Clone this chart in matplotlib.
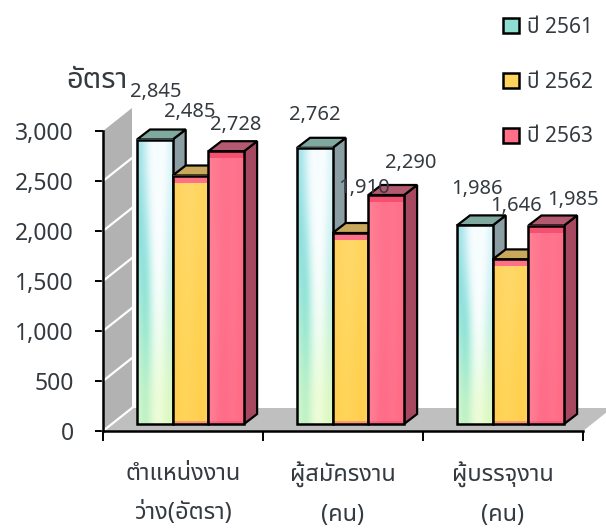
import numpy as np
import matplotlib
matplotlib.use('Agg')
import matplotlib.pyplot as plt
from matplotlib.colors import to_rgb
from matplotlib.patches import Patch, Polygon

categories = ['ตำแหน่งงาน\nว่าง(อัตรา)', 'ผู้สมัครงาน\n(คน)', 'ผู้บรรจุงาน\n(คน)']
years = ['ปี 2561', 'ปี 2562', 'ปี 2563']
values_2561 = [2845, 2762, 1986]
values_2562 = [2485, 1910, 1646]
values_2563 = [2728, 2290, 1985]
yticks = [0, 500, 1000, 1500, 2000, 2500, 3000]

# offset of each value label from the top of its bar, in pixels
label_dx = [[1, -1, 9], [0, 13, 25], [2, 5, 27]]
label_dy = [[-47, -64, -26], [-33, -45, -32], [-36, -53, -26]]

thai_font = ['Noto Sans', 'Noto Sans Thai']
text_col = '#333a40'
plt.rcParams['font.family'] = thai_font

W, H = 606, 528
fig = plt.figure(figsize=(W / 100, H / 100), dpi=100)
ax = fig.add_axes([103 / W, (H - 431) / H, 480 / W, 300 / H])
ax.set_xlim(0, 3)
ax.set_ylim(0, 3000)

# pixels -> data units
px = 3 / 480
py = 3000 / 300

# wall and floor of the 3d box
wall_dx, wall_dy = 29 * px, 23 * py
wall = Polygon([(0, 0), (wall_dx, wall_dy), (wall_dx, 3000 + wall_dy), (0, 3000)],
               fc='#b2b2b2', ec='none', clip_on=False, zorder=1)
ax.add_patch(wall)
floor = Polygon([(0, 0), (wall_dx, wall_dy), (3 + wall_dx, wall_dy), (3, 0)],
                fc='#bfbfbf', ec='none', clip_on=False, zorder=1)
ax.add_patch(floor)
for t in yticks[:-1]:
    ax.plot([0, wall_dx], [t, t + wall_dy], color='white', lw=1.6, clip_on=False, zorder=2)


def texture(rows):
    return np.array([[to_rgb(c) for c in row] for row in rows])


tex_2561 = texture([
    ['#a0e2e6', '#d0f1f6', '#ffffff', '#f2fbfd', '#ffffff', '#dcf5fa'],
    ['#84dada', '#a8e8ea', '#f0fbfb', '#ffffff', '#f4fcfc', '#cdf1f4'],
    ['#a0e9de', '#7cdcd2', '#dcf7f2', '#ffffff', '#ecfbf8', '#bceee6'],
    ['#bff0da', '#8ce6ca', '#cff6e4', '#f5fff5', '#e4fae6', '#ccf4d4'],
    ['#d0f6cc', '#b8f0c2', '#e0fad4', '#f2fdd8', '#e5fbcc', '#dcf7c2'],
])
tex_2562 = texture([
    ['#ffd25e', '#ffd766', '#ffd96c', '#ffd562', '#ffd45e'],
    ['#ffd357', '#ffd860', '#ffd65c', '#ffd255', '#ffd358'],
    ['#ffcf50', '#ffd55a', '#ffd357', '#ffcf50', '#ffd052'],
])
tex_2563 = texture([
    ['#ff7f90', '#ff7590', '#ff6f8a', '#ff7690', '#ff6f88'],
    ['#ff8296', '#ff7a92', '#ff6d88', '#ff7a90', '#ff6c86'],
    ['#ff7f94', '#ff6f8a', '#ff6a86', '#ff748c', '#ff6a84'],
])
textures = [tex_2561, tex_2562, tex_2563]
side_cols = ['#8b9ea3', '#b89c55', '#a6485f']
top_cols = ['#7fa89f', '#c8a95c', '#b45a70']
band_cols = [None, '#ff7088', '#f5506f']

# bars stand a little behind the axis line
base = 7 * py
bar_w = 35.7 * px
first = 34 * px
dep_x, dep_y = 13 * px, 10 * py

series = [values_2561, values_2562, values_2563]
z = 3
for g in range(len(categories)):
    for s in range(len(series)):
        v = series[s][g]
        x0 = g + first + s * bar_w
        x1 = x0 + bar_w
        top = v + base
        ax.add_patch(Polygon([(x1, base), (x1 + dep_x, base + dep_y), (x1 + dep_x, top + dep_y), (x1, top)],
                             fc=side_cols[s], ec='black', lw=1.6, clip_on=False, zorder=z))
        ax.add_patch(Polygon([(x0, top), (x0 + dep_x, top + dep_y), (x1 + dep_x, top + dep_y), (x1, top)],
                             fc=top_cols[s], ec='black', lw=1.6, clip_on=False, zorder=z))
        ax.imshow(textures[s], extent=[x0, x1, base, top], aspect='auto',
                  interpolation='bicubic', zorder=z + 1)
        if band_cols[s]:
            ax.bar(x0, 7 * py, width=bar_w, bottom=top - 7 * py, align='edge',
                   color=band_cols[s], lw=0, zorder=z + 1)
            ax.bar(x0, 3 * py, width=bar_w, bottom=base, align='edge',
                   color=band_cols[s], lw=0, alpha=0.6, zorder=z + 1)
        ax.bar(x0, v, width=bar_w, bottom=base, align='edge', fc='none',
               ec='black', lw=1.8, zorder=z + 2)
        ax.annotate(f'{v:,}', xy=(x0 + bar_w / 2, top),
                    xytext=(label_dx[g][s] * 0.72, -label_dy[g][s] * 0.72),
                    textcoords='offset points', ha='center', va='center',
                    fontsize=14.5, color=text_col, annotation_clip=False, zorder=300)
        z += 3

ax.set_xlim(0, 3)
ax.set_ylim(0, 3000)
ax.set_yticks(yticks)
ax.set_yticklabels([f'{t:,}' for t in yticks], fontsize=16.5, color=text_col)
ax.set_xticks([0, 1, 2, 3])
ax.set_xticklabels([])
ax.set_xticks([0.5, 1.5, 2.5], minor=True)
ax.set_xticklabels(categories, minor=True, fontsize=17, color=text_col, linespacing=1.85, va='top')
ax.tick_params(axis='x', which='minor', length=0, pad=22)
ax.tick_params(axis='x', which='major', length=7, width=1.4, direction='out')
ax.tick_params(axis='y', length=6, width=1.4, pad=15)

for name in ['top', 'right']:
    ax.spines[name].set_visible(False)
for name in ['left', 'bottom']:
    ax.spines[name].set_linewidth(1.8)
    ax.spines[name].set_zorder(100)
ax.patch.set_visible(False)

fig.text(97 / W, 1 - 81 / H, 'อัตรา', fontsize=21, color=text_col, ha='center', va='center')

handles = [Patch(fc=c, ec='black', lw=1.8) for c in ['#8fdfd0', '#ffd45e', '#ff7088']]
ax.legend(handles, years, loc='upper left', bbox_to_anchor=(503 / W, 1 - 17 / H),
          bbox_transform=fig.transFigure, frameon=False, fontsize=15,
          labelcolor=text_col, handlelength=0.75, handleheight=0.75, handletextpad=0.4,
          labelspacing=1.62, borderpad=0, borderaxespad=0)

fig.savefig('out.png', dpi=100)
